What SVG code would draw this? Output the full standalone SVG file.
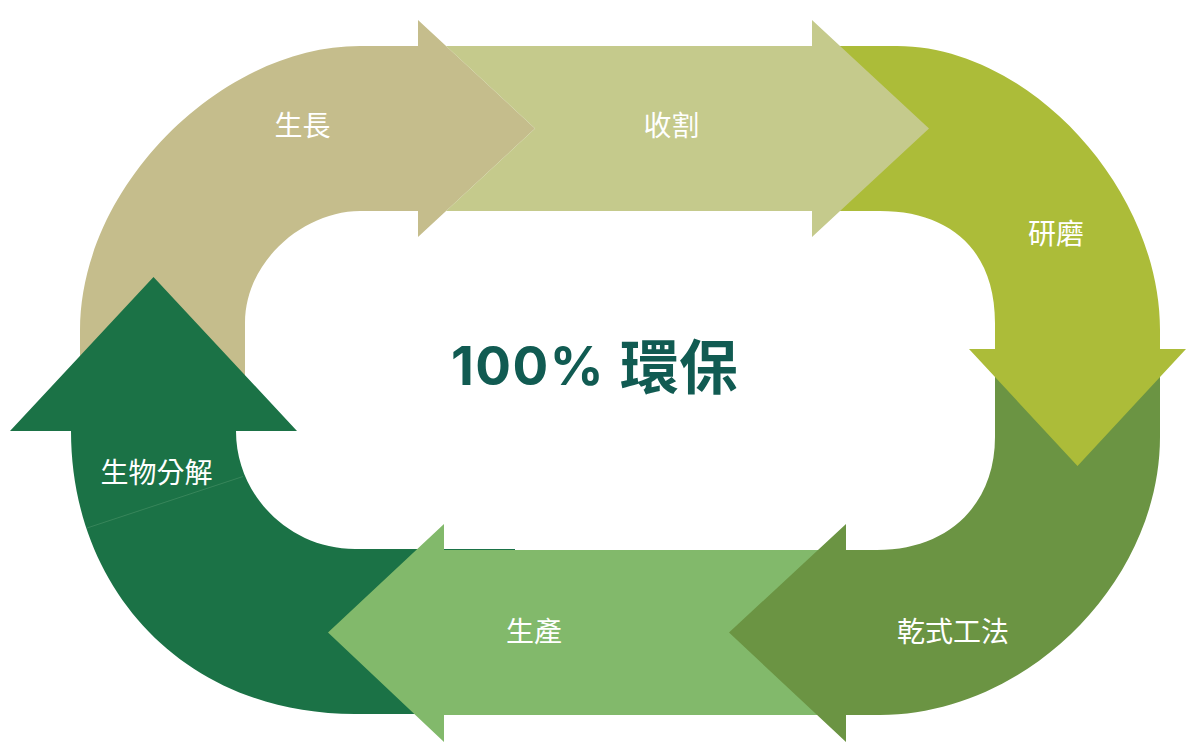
<svg xmlns="http://www.w3.org/2000/svg" width="1200" height="751" viewBox="0 0 1200 751">
<style>
.lbl{font-family:"Noto Sans CJK TC","Noto Sans CJK SC",sans-serif;font-size:28px;fill:#ffffff;text-anchor:middle;font-weight:400}
.c1{fill:#C5BD8C}.c2{fill:#C5CA8C}.c3{fill:#ACBC39}.c4{fill:#6B9443}.c5{fill:#82B96B}.c6{fill:#1B7246}
</style>
<rect width="1200" height="751" fill="#ffffff"/>
<g id="node-growth">
<path class="c1" d="M80,431 L80,330 C80,188 220,46 360,46 L418,46 L418,20 L535,128.5 L418,237 L418,211 L360,211 C305,211 245,260 245,323 L245,431 Z"/>
<text class="lbl" x="302.5" y="135.5">生長</text>
</g>
<g id="node-biodegrade">
<path class="c6" d="M515,549 L515,714 L355,714 C185,714 71,590 71,431 L10,431 L153.5,277 L297,431 L236,431 C236,496 290,549 355,549 Z"/>
<line x1="87" y1="528" x2="243" y2="476.5" stroke="#3F8A60" stroke-width="0.8"/>
<text class="lbl" x="156.5" y="483">生物分解</text>
</g>
<g id="node-production">
<path class="c5" d="M850,550 L850,715 L444,715 L444,742 L328,632.5 L444,524 L444,550 Z"/>
<text class="lbl" x="534" y="642">生產</text>
</g>
<g id="node-dry">
<path class="c4" d="M995,349 L1160,349 L1160,437 C1160,582 1026,715 880,715 L846,715 L846,742 L729,632.5 L846,524 L846,550 L877,550 C948,550 995,505 995,437 Z"/>
<text class="lbl" x="953" y="642">乾式工法</text>
</g>
<g id="node-grind">
<path class="c3" d="M812,46 L897,46 C1028.5,46 1160,188 1160,330 L1160,349 L1186,349 L1077.5,466 L969,349 L995,349 L995,323 C995,250 950,211 880,211 L812,211 Z"/>
<text class="lbl" x="1056" y="243.5">研磨</text>
</g>
<g id="node-harvest">
<path class="c2" d="M446,46 L812,46 L812,20 L929,128.5 L812,237 L812,211 L446,211 L535,128.5 Z"/>
<text class="lbl" x="671.5" y="135.5">收割</text>
</g>
<g id="connectors"></g>
<g id="title">
<text y="385" fill="#115B52" font-weight="700"><tspan x="451" font-family="Inter,'Noto Sans',sans-serif" font-size="53" letter-spacing="1.5">100%</tspan><tspan x="620" y="389" font-family="'Noto Sans CJK TC',sans-serif" font-size="59">環保</tspan></text>
</g>
</svg>
